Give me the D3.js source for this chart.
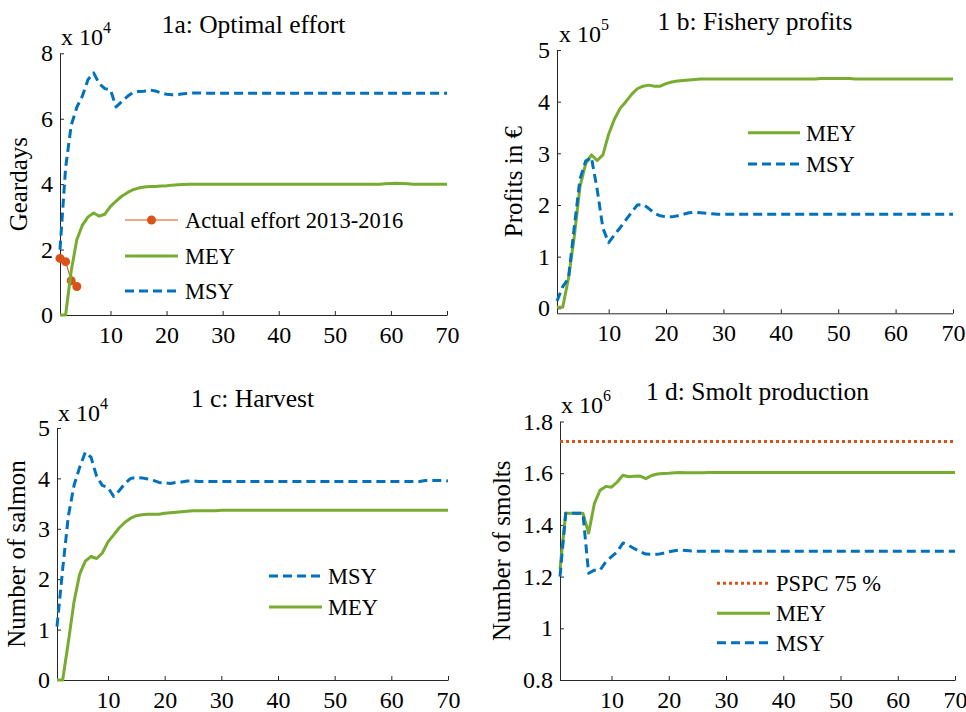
<!DOCTYPE html>
<html><head><meta charset="utf-8">
<script src="https://cdn.jsdelivr.net/npm/d3@7"></script>
<style>
body{margin:0;background:#fff}
svg{display:block}
text{font-family:"Liberation Serif","Times New Roman",Times,serif;}
</style>
</head><body>
<svg id="c" width="966" height="712"></svg>
<script>
// ---------------- DATA (values in displayed units, see exponent per panel) ----------------
const years = [1,2,3,4,5,6,7,8,9,10,11,12,13,14,15,16,17,18,19,20,21,22,23,24,25,26,27,28,29,30,
  31,32,33,34,35,36,37,38,39,40,41,42,43,44,45,46,47,48,49,50,51,52,53,54,55,56,57,58,59,60,
  61,62,63,64,65,66,67,68,69,70];
const xTicks = [10,20,30,40,50,60,70];

// 1a: Optimal effort (x 10^4 geardays)
const effortMSY = [2.0,4.5,5.8,6.35,6.7,7.2,7.4,7.07,6.92,6.88,
  6.36,6.52,6.68,6.8,6.83,6.84,6.88,6.85,6.79,6.75,
  6.73,6.74,6.76,6.78,6.79,6.79,6.78,6.78,6.78,6.78,
  6.78,6.78,6.78,6.78,6.78,6.78,6.78,6.78,6.78,6.78,
  6.78,6.78,6.78,6.78,6.78,6.78,6.78,6.78,6.78,6.78,
  6.78,6.78,6.78,6.78,6.78,6.78,6.78,6.78,6.78,6.78,
  6.78,6.78,6.78,6.78,6.78,6.78,6.78,6.78,6.78,6.78];
const effortMEY = [0,0,1.35,2.3,2.75,3.0,3.12,3.02,3.08,3.32,
  3.48,3.63,3.74,3.83,3.88,3.91,3.93,3.93,3.94,3.95,
  3.97,3.98,3.99,4.0,4.0,4.0,4.0,4.0,4.0,4.0,
  4.0,4.0,4.0,4.0,4.0,4.0,4.0,4.0,4.0,4.0,
  4.0,4.0,4.0,4.0,4.0,4.0,4.0,4.0,4.0,4.0,
  4.0,4.0,4.0,4.0,4.0,4.0,4.0,4.0,4.01,4.02,
  4.03,4.02,4.01,4.0,4.0,4.0,4.0,4.0,4.0,4.0];
const actualYears = [1,2,3,4];
const actualEffort = [1.73,1.63,1.05,0.87];
const effortTicks = [0,2,4,6,8];

// 1b: Fishery profits (x 10^5 EUR)
const profitMEY = [0.02,0.02,0.58,1.38,2.35,2.8,2.97,2.86,2.97,3.37,
  3.66,3.87,4.0,4.14,4.25,4.3,4.32,4.3,4.3,4.35,
  4.38,4.4,4.41,4.42,4.43,4.44,4.44,4.44,4.44,4.44,
  4.44,4.44,4.44,4.44,4.44,4.44,4.44,4.44,4.44,4.44,
  4.44,4.44,4.44,4.44,4.44,4.44,4.45,4.45,4.45,4.45,
  4.45,4.45,4.44,4.44,4.44,4.44,4.44,4.44,4.44,4.44,
  4.44,4.44,4.44,4.44,4.44,4.44,4.44,4.44,4.44,4.44];
const profitMSY = [0.14,0.42,0.58,1.56,2.5,2.85,2.92,2.3,1.55,1.27,
  1.42,1.56,1.71,1.86,2.0,2.01,1.93,1.84,1.79,1.77,
  1.77,1.79,1.82,1.85,1.86,1.85,1.84,1.83,1.82,1.82,
  1.82,1.82,1.82,1.82,1.82,1.82,1.82,1.82,1.82,1.82,
  1.82,1.82,1.82,1.82,1.82,1.82,1.82,1.82,1.82,1.82,
  1.82,1.82,1.82,1.82,1.82,1.82,1.82,1.82,1.82,1.82,
  1.82,1.82,1.82,1.82,1.82,1.82,1.82,1.82,1.82,1.82];
const profitTicks = [0,1,2,3,4,5];

// 1c: Harvest (x 10^4 salmon)
const harvestMSY = [1.06,2.2,3.25,3.86,4.22,4.52,4.42,4.04,3.86,3.82,
  3.64,3.76,3.9,4.0,4.02,4.01,3.99,3.96,3.92,3.91,
  3.9,3.92,3.93,3.95,3.95,3.94,3.94,3.94,3.94,3.94,
  3.94,3.94,3.94,3.94,3.94,3.94,3.94,3.94,3.94,3.94,
  3.94,3.94,3.94,3.94,3.94,3.94,3.94,3.94,3.94,3.94,
  3.94,3.94,3.94,3.94,3.94,3.94,3.94,3.94,3.94,3.94,
  3.94,3.94,3.94,3.94,3.94,3.96,3.96,3.96,3.96,3.95];
const harvestMEY = [0,0,0.75,1.55,2.1,2.36,2.45,2.41,2.52,2.74,
  2.88,3.02,3.13,3.21,3.26,3.28,3.29,3.29,3.29,3.31,
  3.32,3.33,3.34,3.35,3.36,3.36,3.36,3.36,3.36,3.37,
  3.37,3.37,3.37,3.37,3.37,3.37,3.37,3.37,3.37,3.37,
  3.37,3.37,3.37,3.37,3.37,3.37,3.37,3.37,3.37,3.37,
  3.37,3.37,3.37,3.37,3.37,3.37,3.37,3.37,3.37,3.37,
  3.37,3.37,3.37,3.37,3.37,3.37,3.37,3.37,3.37,3.37];
const harvestTicks = [0,1,2,3,4,5];

// 1d: Smolt production (x 10^6 smolts)
const smoltMEY = [1.23,1.445,1.445,1.445,1.445,1.368,1.482,1.534,1.549,1.546,
  1.566,1.592,1.586,1.588,1.589,1.579,1.591,1.597,1.599,1.6,
  1.602,1.603,1.602,1.602,1.602,1.602,1.603,1.603,1.603,1.603,
  1.603,1.603,1.603,1.603,1.603,1.603,1.603,1.603,1.603,1.603,
  1.603,1.603,1.603,1.603,1.603,1.603,1.603,1.603,1.603,1.603,
  1.603,1.603,1.603,1.603,1.603,1.603,1.603,1.603,1.603,1.603,
  1.603,1.603,1.603,1.603,1.603,1.603,1.603,1.603,1.603,1.603];
const smoltMSY = [1.2,1.445,1.445,1.445,1.445,1.213,1.225,1.225,1.257,1.277,
  1.296,1.33,1.321,1.308,1.296,1.287,1.286,1.286,1.29,1.296,
  1.3,1.303,1.301,1.299,1.298,1.298,1.298,1.298,1.298,1.299,
  1.298,1.298,1.298,1.298,1.298,1.298,1.298,1.298,1.298,1.298,
  1.298,1.298,1.298,1.298,1.298,1.298,1.298,1.298,1.298,1.298,
  1.298,1.298,1.298,1.298,1.298,1.298,1.298,1.298,1.298,1.298,
  1.298,1.298,1.298,1.298,1.298,1.298,1.298,1.298,1.298,1.298];
const pspc75 = 1.723;
const smoltTicks = [0.8,1,1.2,1.4,1.6,1.8];

// ---------------- STYLE ----------------
const GREEN = "#77AC30", BLUE = "#0072BD", ORANGE = "#D95319", AX = "#262626";
const styles = {
  MEY: {color: GREEN, dash: null, width: 3},
  MSY: {color: BLUE, dash: "9,5", width: 3},
  PSPC: {color: ORANGE, dash: "3,3", width: 3},
  ACT: {color: ORANGE, dash: null, width: 1.1, marker: true}
};

const panels = [
  {title: "1a: Optimal effort", box: {l: 60, r: 447, t: 53.3, b: 315}, yDom: [0, 8], yTicks: effortTicks,
   exp: "4", expPos: [61, 45], ylabel: "Geardays", ylabelX: 27, titleY: 33,
   series: [
     {st: "ACT", xs: actualYears, ys: actualEffort},
     {st: "MEY", xs: years, ys: effortMEY},
     {st: "MSY", xs: years, ys: effortMSY}],
   legend: {x1: 125, x2: 178, tx: 185, rows: [220, 256, 291],
     items: [{st: "ACT", label: "Actual effort 2013-2016"}, {st: "MEY", label: "MEY"}, {st: "MSY", label: "MSY"}]}},
  {title: "1 b: Fishery profits", box: {l: 557, r: 953, t: 50, b: 313.3}, yDom: [-0.097, 5], yTicks: profitTicks,
   exp: "5", expPos: [559, 42], ylabel: "Profits in €", ylabelX: 522, titleY: 30,
   series: [
     {st: "MEY", xs: years, ys: profitMEY},
     {st: "MSY", xs: years, ys: profitMSY}],
   legend: {x1: 748, x2: 800, tx: 806, rows: [132.7, 164],
     items: [{st: "MEY", label: "MEY"}, {st: "MSY", label: "MSY"}]}},
  {title: "1 c: Harvest", box: {l: 57, r: 448, t: 428, b: 680}, yDom: [0, 5], yTicks: harvestTicks,
   exp: "4", expPos: [58, 421], ylabel: "Number of salmon", ylabelX: 25, titleY: 407,
   series: [
     {st: "MSY", xs: years, ys: harvestMSY},
     {st: "MEY", xs: years, ys: harvestMEY}],
   legend: {x1: 269, x2: 322, tx: 328, rows: [576, 607],
     items: [{st: "MSY", label: "MSY"}, {st: "MEY", label: "MEY"}]}},
  {title: "1 d: Smolt production", box: {l: 560, r: 955, t: 421.5, b: 680}, yDom: [0.8, 1.8], yTicks: smoltTicks,
   exp: "6", expPos: [561, 413], ylabel: "Number of smolts", ylabelX: 510, titleY: 400,
   series: [
     {st: "PSPC", xs: [years[0], years[years.length - 1]], ys: [pspc75, pspc75]},
     {st: "MEY", xs: years, ys: smoltMEY},
     {st: "MSY", xs: years, ys: smoltMSY}],
   legend: {x1: 717, x2: 770, tx: 776, rows: [583.3, 613.3, 642.7],
     items: [{st: "PSPC", label: "PSPC 75 %"}, {st: "MEY", label: "MEY"}, {st: "MSY", label: "MSY"}]}}
];

const svg = d3.select("#c");
const fmt = d3.format("~g");

panels.forEach(p => {
  const g = svg.append("g");
  const x = d3.scaleLinear().domain([1, 70]).range([p.box.l, p.box.r]);
  const y = d3.scaleLinear().domain(p.yDom).range([p.box.b, p.box.t]);

  const xa = g.append("g").attr("transform", `translate(0,${p.box.b})`)
    .call(d3.axisBottom(x).tickValues(xTicks).tickSizeInner(-4).tickSizeOuter(0).tickPadding(11).tickFormat(fmt));
  const ya = g.append("g").attr("transform", `translate(${p.box.l},0)`)
    .call(d3.axisLeft(y).tickValues(p.yTicks).tickSizeInner(-4).tickSizeOuter(0).tickPadding(7).tickFormat(fmt));
  [xa, ya].forEach(a => {
    a.select(".domain").attr("stroke", AX).attr("stroke-width", 1);
    a.selectAll(".tick line").attr("stroke", AX).attr("stroke-width", 1);
    a.selectAll(".tick text").attr("fill", "#000").attr("font-size", 24)
      .attr("font-family", "'Liberation Serif','Times New Roman',serif");
  });

  // title
  g.append("text").attr("x", (p.box.l + p.box.r) / 2).attr("y", p.titleY)
    .attr("text-anchor", "middle").attr("font-size", 25.5).attr("fill", "#000").text(p.title);
  // exponent label
  const et = g.append("text").attr("x", p.expPos[0]).attr("y", p.expPos[1]).attr("font-size", 24).attr("fill", "#000");
  et.append("tspan").text("x 10");
  et.append("tspan").attr("dy", -12).attr("font-size", 16).text(p.exp);
  // y label
  g.append("text").attr("transform", `translate(${p.ylabelX},${(p.box.t + p.box.b) / 2}) rotate(-90)`)
    .attr("text-anchor", "middle").attr("font-size", 25).attr("fill", "#000").text(p.ylabel);

  // series
  const line = d3.line().x(d => x(d[0])).y(d => y(d[1]));
  p.series.forEach(s => {
    const st = styles[s.st];
    const pts = s.xs.map((xv, i) => [xv, s.ys[i]]);
    g.append("path").attr("d", line(pts)).attr("fill", "none")
      .attr("stroke", st.color).attr("stroke-width", st.width)
      .attr("stroke-dasharray", st.dash).attr("stroke-linejoin", "round");
    if (st.marker) {
      g.selectAll(null).data(pts).enter().append("circle")
        .attr("cx", d => x(d[0])).attr("cy", d => y(d[1])).attr("r", 4.5).attr("fill", st.color);
    }
  });

  // legend
  const L = p.legend;
  L.items.forEach((it, i) => {
    const st = styles[it.st];
    const ry = L.rows[i];
    g.append("line").attr("x1", L.x1).attr("x2", L.x2).attr("y1", ry).attr("y2", ry)
      .attr("stroke", st.color).attr("stroke-width", st.width).attr("stroke-dasharray", st.dash);
    if (st.marker) g.append("circle").attr("cx", (L.x1 + L.x2) / 2).attr("cy", ry).attr("r", 4.5).attr("fill", st.color);
    g.append("text").attr("x", L.tx).attr("y", ry + 8).attr("font-size", 22.5).attr("fill", "#000").text(it.label);
  });
});
</script>
</body></html>
